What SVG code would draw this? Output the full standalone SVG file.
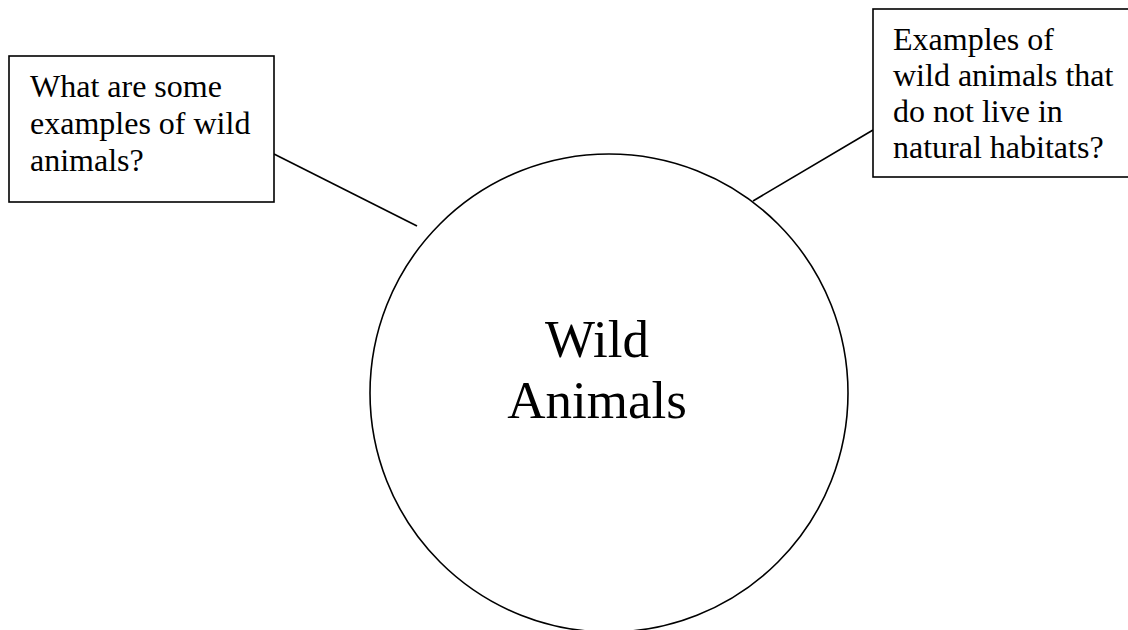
<svg xmlns="http://www.w3.org/2000/svg" width="1128" height="630" viewBox="0 0 1128 630">
<style>
.shape{fill:#fff;stroke:#000;stroke-width:1.6}
.conn{stroke:#000;stroke-width:1.6;fill:none}
.t{font-family:"Liberation Serif","Times New Roman",serif;fill:#000;font-size:32px}
.big{font-family:"Liberation Serif","Times New Roman",serif;fill:#000;font-size:53px}
</style>
<rect width="1128" height="630" fill="#fff"/>
<g id="connectors">
<line class="conn" x1="274" y1="154" x2="417" y2="226"/>
<line class="conn" x1="873" y1="130" x2="753" y2="201"/>
</g>
<g id="center">
<circle class="shape" cx="609" cy="393" r="239"/>
<text class="big" x="597" y="357" text-anchor="middle">Wild</text>
<text class="big" x="597" y="418" text-anchor="middle">Animals</text>
</g>
<g id="box-left">
<rect class="shape" x="9" y="56" width="265" height="146"/>
<text class="t" x="30" y="97">What are some</text>
<text class="t" x="30" y="134">examples of wild</text>
<text class="t" x="30" y="171">animals?</text>
</g>
<g id="box-right">
<rect class="shape" x="873" y="9" width="258" height="168"/>
<text class="t" x="893" y="50">Examples of</text>
<text class="t" x="893" y="86">wild animals that</text>
<text class="t" x="893" y="122">do not live in</text>
<text class="t" x="893" y="158">natural habitats?</text>
</g>
</svg>
